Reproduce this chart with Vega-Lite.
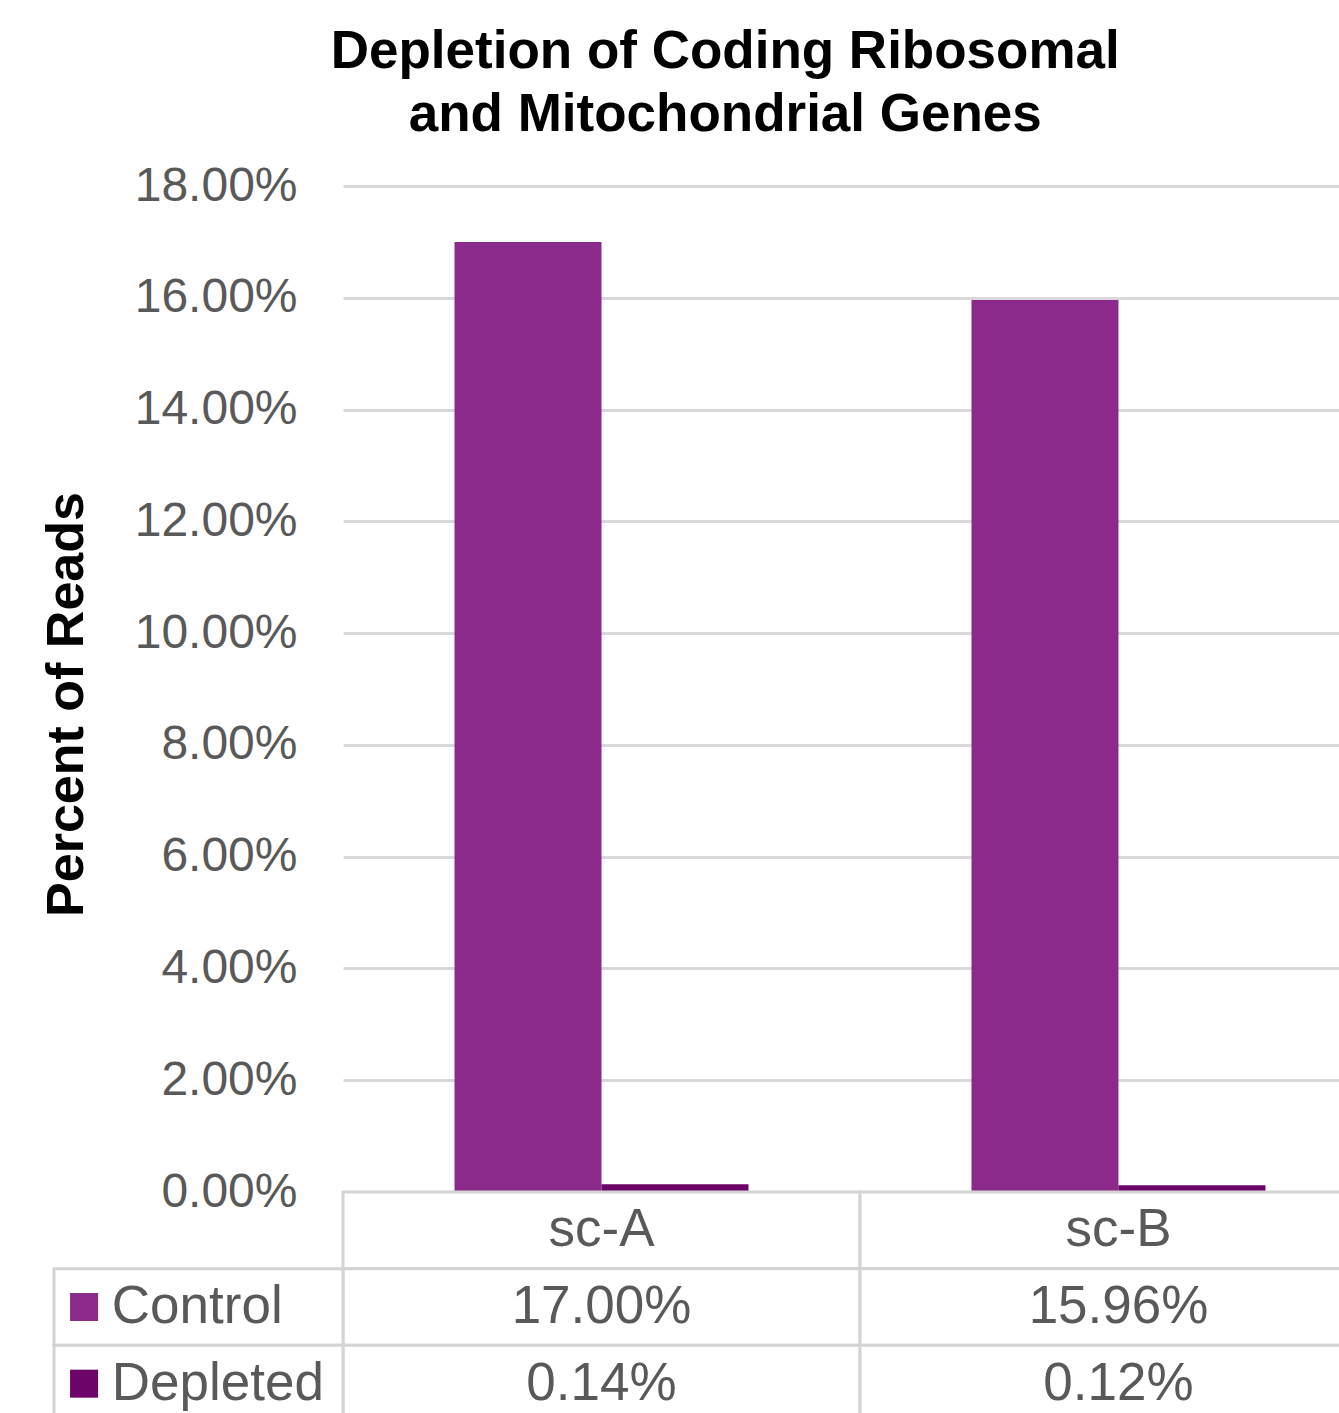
{
  "$schema": "https://vega.github.io/schema/vega-lite/v6.json",
  "padding": {"left": 40, "top": 26, "right": 5, "bottom": 0},
  "background": "white",
  "title": {
    "text": ["Depletion of Coding Ribosomal", "and Mitochondrial Genes"],
    "font": "Liberation Sans",
    "fontSize": 53,
    "fontWeight": "bold",
    "color": "#000000",
    "lineHeight": 63,
    "anchor": "middle",
    "dx": 16,
    "offset": 20
  },
  "data": {
    "values": [
      {"sample": "sc-A", "series": "Control", "value": 0.17},
      {"sample": "sc-A", "series": "Depleted", "value": 0.0014},
      {"sample": "sc-B", "series": "Control", "value": 0.1596},
      {"sample": "sc-B", "series": "Depleted", "value": 0.0012}
    ]
  },
  "bounds": "flush",
  "spacing": 0,
  "vconcat": [
    {
      "width": 1034,
      "height": 1006,
      "mark": {"type": "bar"},
      "encoding": {
        "x": {
          "field": "sample",
          "type": "nominal",
          "axis": null,
          "scale": {"paddingInner": 0.4313, "paddingOuter": 0.2157}
        },
        "xOffset": {
          "field": "series",
          "type": "nominal",
          "scale": {"paddingInner": 0, "paddingOuter": 0}
        },
        "y": {
          "field": "value",
          "type": "quantitative",
          "scale": {"domain": [0, 0.18], "nice": false},
          "axis": {
            "values": [0, 0.02, 0.04, 0.06, 0.08, 0.1, 0.12, 0.14, 0.16, 0.18],
            "format": ".2%",
            "title": "Percent of Reads",
            "titleFont": "Liberation Sans",
            "titleFontSize": 52,
            "titleFontWeight": "bold",
            "titleColor": "#000000",
            "titlePadding": 50,
            "titleY": 518,
            "labelFont": "Liberation Sans",
            "labelFontSize": 48,
            "labelColor": "#595959",
            "labelPadding": 46,
            "ticks": false,
            "tickSize": 0,
            "domain": false,
            "grid": true,
            "gridColor": "#D9D9D9",
            "gridWidth": 3
          }
        },
        "color": {
          "field": "series",
          "type": "nominal",
          "scale": {"domain": ["Control", "Depleted"], "range": ["#8C2A8C", "#6C0469"]},
          "legend": null
        }
      }
    },
    {
      "width": 1034,
      "height": 230,
      "layer": [
        {
          "layer": [
            {
              "transform": [{"filter": "datum.series === 'Control'"}],
              "mark": {"type": "rect", "fill": "white", "stroke": "#D4D4D4", "strokeWidth": 3},
              "encoding": {
                "x": {"field": "sample", "type": "nominal", "axis": null, "scale": {"paddingInner": 0, "paddingOuter": 0}},
                "y": {"datum": "header", "type": "nominal", "axis": null, "scale": {"domain": ["header", "Control", "Depleted"], "paddingInner": 0, "paddingOuter": 0}}
              }
            },
            {
              "mark": {"type": "rect", "fill": "white", "stroke": "#D4D4D4", "strokeWidth": 3},
              "encoding": {
                "x": {"field": "sample", "type": "nominal", "axis": null, "scale": {"paddingInner": 0, "paddingOuter": 0}},
                "y": {"field": "series", "type": "nominal", "axis": null, "scale": {"domain": ["header", "Control", "Depleted"], "paddingInner": 0, "paddingOuter": 0}}
              }
            },
            {
              "transform": [{"filter": "datum.series === 'Control'"}],
              "mark": {"type": "text", "font": "Liberation Sans", "fontSize": 53, "color": "#595959", "align": "center", "baseline": "middle"},
              "encoding": {
                "x": {"field": "sample", "type": "nominal", "axis": null, "scale": {"paddingInner": 0, "paddingOuter": 0}},
                "y": {"datum": "header", "type": "nominal", "axis": null, "scale": {"domain": ["header", "Control", "Depleted"], "paddingInner": 0, "paddingOuter": 0}},
                "text": {"field": "sample", "type": "nominal"}
              }
            },
            {
              "mark": {"type": "text", "font": "Liberation Sans", "fontSize": 53, "color": "#595959", "align": "center", "baseline": "middle"},
              "encoding": {
                "x": {"field": "sample", "type": "nominal", "axis": null, "scale": {"paddingInner": 0, "paddingOuter": 0}},
                "y": {"field": "series", "type": "nominal", "axis": null, "scale": {"domain": ["header", "Control", "Depleted"], "paddingInner": 0, "paddingOuter": 0}},
                "text": {"field": "value", "type": "quantitative", "format": ".2%"}
              }
            }
          ]
        },
        {
          "transform": [{"filter": "datum.sample === 'sc-A'"}],
          "layer": [
            {
              "mark": {"type": "rect", "fill": "white", "stroke": "#D4D4D4", "strokeWidth": 3},
              "encoding": {
                "x": {"datum": "label", "type": "nominal", "axis": null, "scale": {"domain": ["label"], "range": [-289, 0], "paddingInner": 0, "paddingOuter": 0}},
                "y": {"field": "series", "type": "nominal", "axis": null, "scale": {"domain": ["header", "Control", "Depleted"], "paddingInner": 0, "paddingOuter": 0}}
              }
            },
            {
              "mark": {"type": "point", "shape": "square", "filled": true, "size": 784, "opacity": 1},
              "encoding": {
                "x": {"datum": "label", "type": "nominal", "bandPosition": 0.104, "axis": null, "scale": {"domain": ["label"], "range": [-289, 0], "paddingInner": 0, "paddingOuter": 0}},
                "y": {"field": "series", "type": "nominal", "axis": null, "scale": {"domain": ["header", "Control", "Depleted"], "paddingInner": 0, "paddingOuter": 0}},
                "color": {
                  "field": "series",
                  "type": "nominal",
                  "scale": {"domain": ["Control", "Depleted"], "range": ["#8C2A8C", "#6C0469"]},
                  "legend": null
                }
              }
            },
            {
              "mark": {"type": "text", "font": "Liberation Sans", "fontSize": 53, "color": "#595959", "align": "left", "baseline": "middle"},
              "encoding": {
                "x": {"datum": "label", "type": "nominal", "bandPosition": 0.2, "axis": null, "scale": {"domain": ["label"], "range": [-289, 0], "paddingInner": 0, "paddingOuter": 0}},
                "y": {"field": "series", "type": "nominal", "axis": null, "scale": {"domain": ["header", "Control", "Depleted"], "paddingInner": 0, "paddingOuter": 0}},
                "text": {"field": "series", "type": "nominal"}
              }
            }
          ]
        }
      ],
      "resolve": {"scale": {"x": "independent"}}
    }
  ],
  "resolve": {"scale": {"x": "independent"}},
  "config": {"view": {"stroke": null}, "font": "Liberation Sans"}
}
